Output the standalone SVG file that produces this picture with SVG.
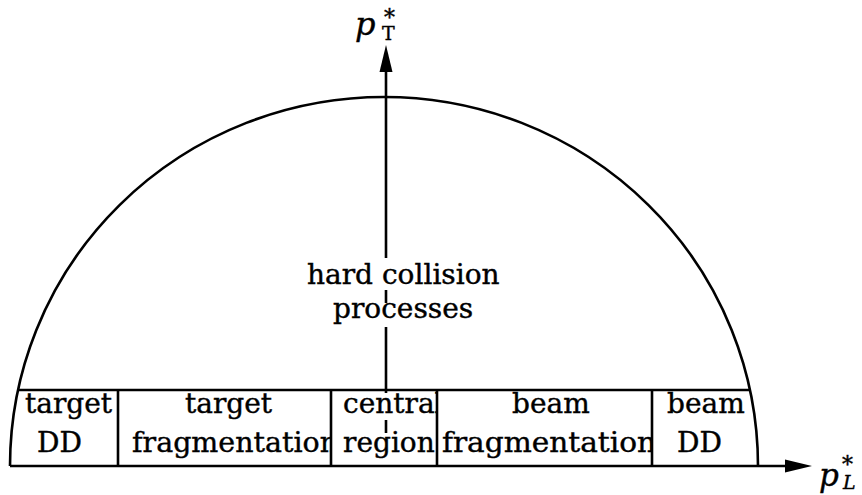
<svg xmlns="http://www.w3.org/2000/svg" width="862" height="495" viewBox="0 0 862 495">
<style>
.ln{fill:none;stroke:#000;stroke-width:2.6;stroke-linecap:butt}
.t{font-family:"DejaVu Serif","Liberation Serif",serif;font-size:28px;fill:#000;stroke:#000;stroke-width:0.4}
.m{font-family:"DejaVu Serif","Liberation Serif",serif;font-style:italic}
.lab{font-family:"DejaVu Serif","Liberation Serif",serif;fill:#000;stroke:#000;stroke-width:0.4}
</style>
<defs>
<clipPath id="c2"><rect x="119" y="391" width="211" height="74"/></clipPath>
<clipPath id="c3"><rect x="332" y="391" width="104" height="74"/></clipPath>
<clipPath id="c4"><rect x="438" y="391" width="213" height="74"/></clipPath>
</defs>
<rect width="862" height="495" fill="#fff"/>
<g id="connectors">
<path class="ln" d="M10 466 L788 466"/>
<polygon points="812,466 785,459.5 785,472.5" fill="#000"/>
<path class="ln" d="M386 70 V258 M386 290 V303 M386 327 V393 M386 420 V433"/>
<polygon points="386,45 379.5,72 392.5,72" fill="#000"/>
</g>
<g id="arc">
<path class="ln" d="M10 466 A374 369 0 0 1 758 466"/>
</g>
<g id="boxes">
<path class="ln" d="M18 390 H750 M118 390 V466 M331 390 V466 M437 390 V466 M652 390 V466"/>
</g>
<g id="target-dd">
<text class="t" x="25" y="413">target</text>
<text class="t" x="37" y="452">DD</text>
</g>
<g id="target-frag" clip-path="url(#c2)">
<text class="t" x="185" y="413">target</text>
<text class="t" x="132" y="452" textLength="206" lengthAdjust="spacingAndGlyphs">fragmentation</text>
</g>
<g id="central" clip-path="url(#c3)">
<text class="t" x="343" y="413">central</text>
<text class="t" x="343" y="452">region</text>
</g>
<g id="beam-frag" clip-path="url(#c4)">
<text class="t" x="512" y="413">beam</text>
<text class="t" x="442" y="452" textLength="214" lengthAdjust="spacingAndGlyphs">fragmentation</text>
</g>
<g id="beam-dd">
<text class="t" x="667" y="413">beam</text>
<text class="t" x="677" y="452">DD</text>
</g>
<g id="hard">
<text class="t" x="307" y="284">hard collision</text>
<text class="t" x="333" y="318">processes</text>
</g>
<g id="pt-label">
<text class="lab"><tspan class="m" x="355" y="35" font-size="32">p</tspan><tspan x="384" y="25" font-size="22">*</tspan><tspan x="382" y="40" font-size="19">T</tspan></text>
</g>
<g id="pl-label">
<text class="lab"><tspan class="m" x="819" y="486" font-size="31">p</tspan><tspan x="842" y="472" font-size="22">*</tspan><tspan class="m" x="843" y="489" font-size="19">L</tspan></text>
</g>
</svg>
